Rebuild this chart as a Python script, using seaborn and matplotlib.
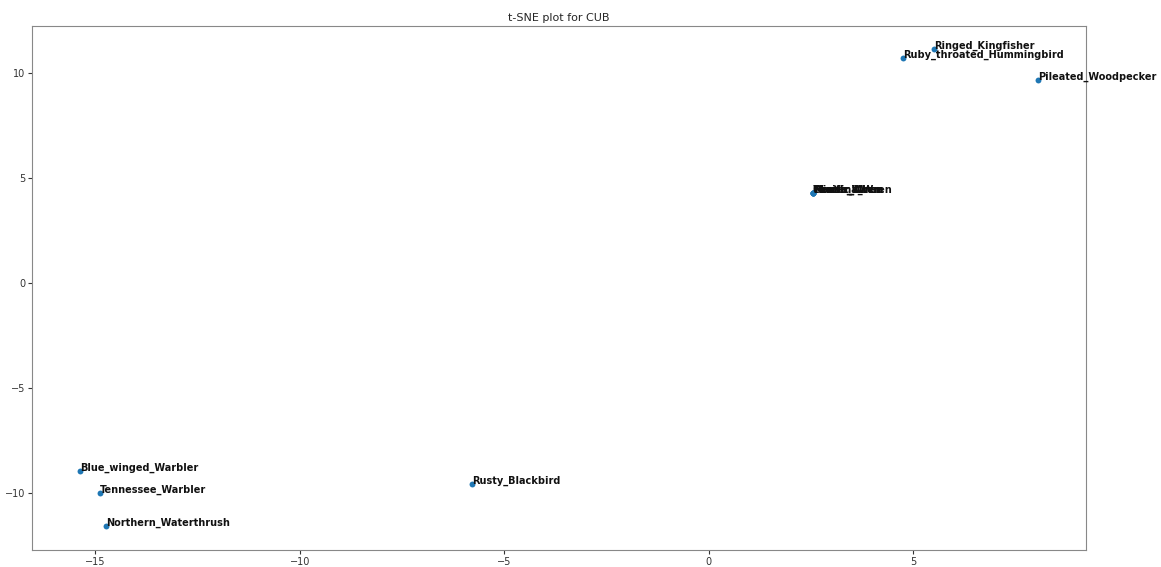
import numpy as np
import pandas as pd
import matplotlib
matplotlib.use("Agg")
import matplotlib.pyplot as plt
import seaborn as sns

# Datos
labels = ['Ringed_Kingfisher', 'Ruby_throated_Hummingbird', 'Pileated_Woodpecker',
          'Winter_Wren', 'Pacific_Wren', 'Marsh_Wren', 'House_Wren', 'Carolina_Wren',
          'Blue_winged_Warbler', 'Tennessee_Warbler', 'Northern_Waterthrush',
          'Rusty_Blackbird']
x_vals = [5.50, 4.74, 8.04,
          2.54, 2.54, 2.54, 2.54, 2.54,
          -15.38, -14.89, -14.74,
          -5.79]
y_vals = [11.14, 10.71, 9.67,
          4.29, 4.29, 4.29, 4.29, 4.29,
          -8.95, -10.0, -11.57,
          -9.57]

df = pd.DataFrame({'x': x_vals, 'y': y_vals, 'label': labels})

sns.set_style("ticks")
plt.rcParams['font.family'] = ['DejaVu Sans']

fig, ax = plt.subplots(figsize=(11.61, 5.67), dpi=100)
sns.scatterplot(data=df, x='x', y='y', ax=ax, s=18, linewidth=0, color='#1f77b4')

for _, row in df.iterrows():
    ax.text(row['x'], row['y'], row['label'], fontsize=7, fontweight='bold', color='#111111')

ax.set_xlim(-16.55, 9.22)
ax.set_ylim(-12.71, 12.24)
ax.set_xticks([-15, -10, -5, 0, 5])
ax.set_yticks([-10, -5, 0, 5, 10])
ax.set_xlabel('')
ax.set_ylabel('')
ax.set_title('t-SNE plot for CUB', fontsize=8, pad=4)
for sp in ax.spines.values():
    sp.set_visible(True)
    sp.set_color('#888888')
ax.tick_params(colors='#333333', labelsize=7, length=3, pad=2)

plt.subplots_adjust(left=0.0276, right=0.9354, top=0.954, bottom=0.03)
fig.savefig('out.png', dpi=100)
